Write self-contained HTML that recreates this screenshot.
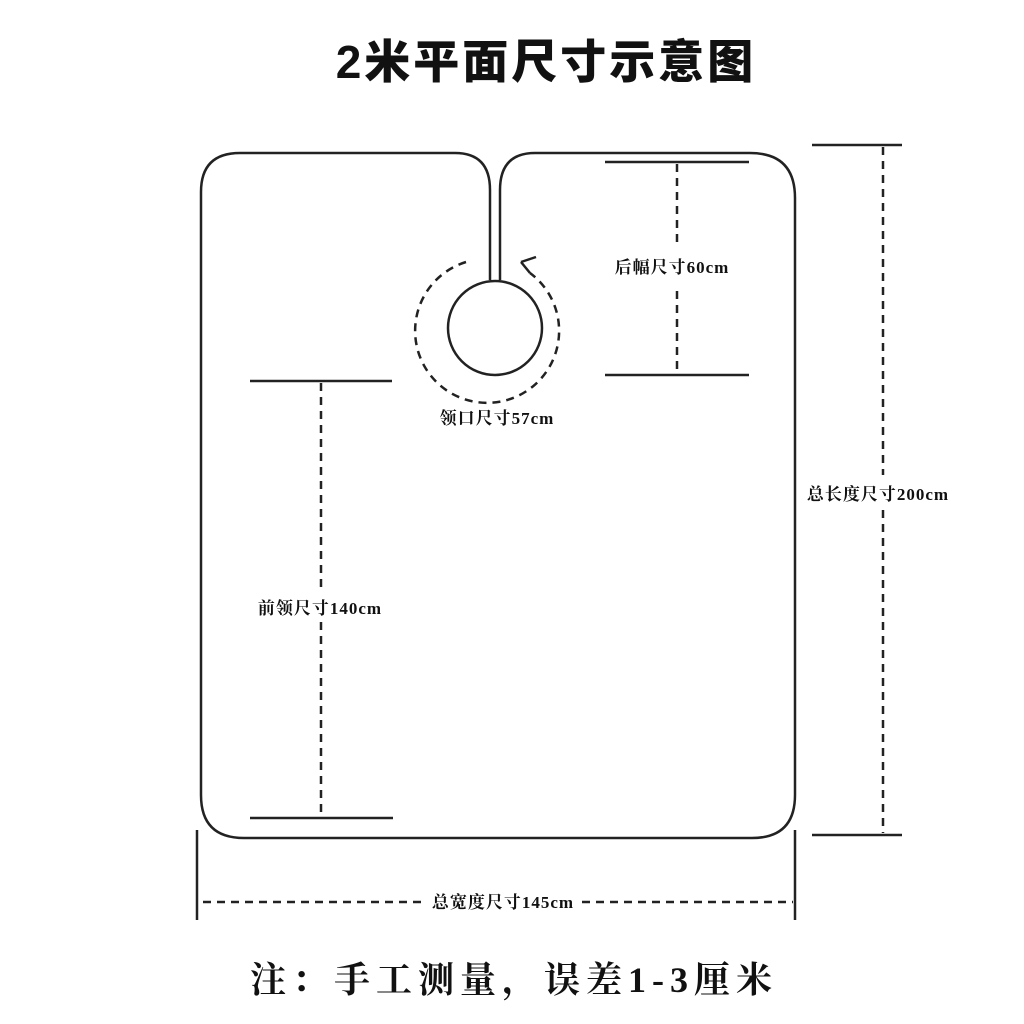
<!DOCTYPE html>
<html><head><meta charset="utf-8"><style>
html,body{margin:0;padding:0;background:#fff;}
svg{display:block;}
text{font-family:"Liberation Serif","Noto Serif CJK SC",serif;font-weight:bold;fill:#111;}
</style></head><body>
<svg width="1024" height="1024" viewBox="0 0 1024 1024">
<text x="546" y="78" text-anchor="middle" font-size="46" letter-spacing="3" style="font-family:'Liberation Sans','Noto Sans CJK SC',sans-serif;font-weight:900">2米平面尺寸示意图</text>
<g fill="none" stroke="#222" stroke-width="2.5">
<path d="M490 280 L490 190 Q490 153 455 153 L240 153 Q201 153 201 192 L201 795 Q201 838 244 838 L752 838 Q795 838 795 795 L795 198 Q795 153 750 153 L535 153 Q500 153 500 190 L500 280"/>
<circle cx="495" cy="328" r="47"/>
<line x1="605" y1="162" x2="749" y2="162"/>
<line x1="605" y1="375" x2="749" y2="375"/>
<line x1="250" y1="381" x2="392" y2="381"/>
<line x1="250" y1="818" x2="393" y2="818"/>
<line x1="812" y1="145" x2="902" y2="145"/>
<line x1="812" y1="835" x2="902" y2="835"/>
<line x1="197" y1="830" x2="197" y2="920"/>
<line x1="795" y1="830" x2="795" y2="920"/>
<path d="M521 262 L536 257" />
<path d="M521 262 L530 273" />
</g>
<g fill="none" stroke="#222" stroke-width="2.5" stroke-dasharray="8,6">
<path d="M466 262 A72 72 0 1 0 530 273"/>
<line x1="677" y1="164" x2="677" y2="243"/>
<line x1="677" y1="291" x2="677" y2="373"/>
<line x1="321" y1="383" x2="321" y2="590"/>
<line x1="321" y1="622" x2="321" y2="816"/>
<line x1="883" y1="147" x2="883" y2="475"/>
<line x1="883" y1="510" x2="883" y2="833"/>
<line x1="203" y1="902" x2="424" y2="902"/>
<line x1="582" y1="902" x2="793" y2="902"/>
</g>
<g font-size="17" letter-spacing="1">
<text x="672" y="273" text-anchor="middle">后幅尺寸60cm</text>
<text x="497" y="424" text-anchor="middle">领口尺寸57cm</text>
<text x="320" y="614" text-anchor="middle">前领尺寸140cm</text>
<text x="878" y="500" text-anchor="middle">总长度尺寸200cm</text>
<text x="503" y="908" text-anchor="middle">总宽度尺寸145cm</text>
</g>
<text x="514" y="992" text-anchor="middle" font-size="36" letter-spacing="6">注：手工测量，误差1-3厘米</text>
</svg>
</body></html>
